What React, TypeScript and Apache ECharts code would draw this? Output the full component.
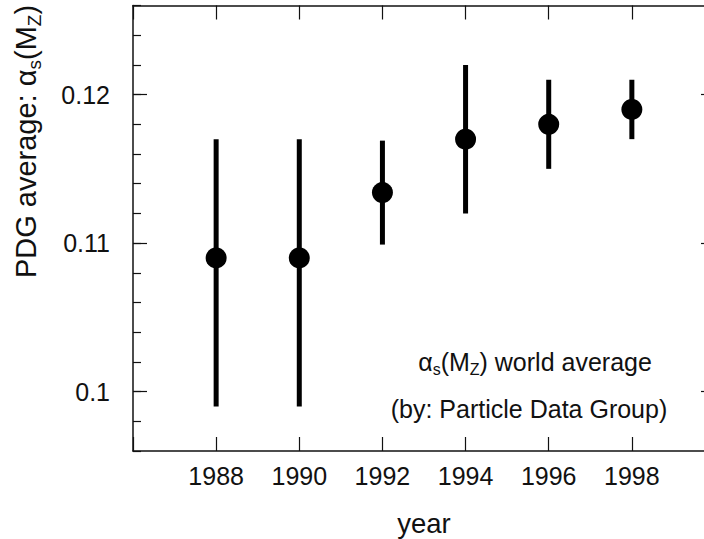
import React, { useEffect, useRef } from "react";
import * as echarts from "echarts";

// PDG world average of alpha_s(M_Z) by edition year
const years = [1988, 1990, 1992, 1994, 1996, 1998];
const alphaS = [0.109, 0.109, 0.1134, 0.117, 0.118, 0.119];
const errLow = [0.099, 0.099, 0.1099, 0.112, 0.115, 0.117];
const errHigh = [0.117, 0.117, 0.1169, 0.122, 0.121, 0.121];

// axis layout
const xRange = [1986, 2000];
const yRange = [0.096, 0.126];
const yMajorTicks = [0.1, 0.11, 0.12];
const xLabelYears = [1988, 1990, 1992, 1994, 1996, 1998];

const FONT = "'Liberation Sans', Arial, Helvetica, sans-serif";
const INK = "#111";

export default function App() {
  const ref = useRef<HTMLDivElement>(null);

  useEffect(() => {
    if (!ref.current) return;
    const chart = echarts.init(ref.current, null, { renderer: "svg" });

    const frameLine = { show: true, lineStyle: { color: INK, width: 1.5 } };

    const option: any = {
      animation: false,
      backgroundColor: "#fff",
      // the frame runs a little past the right edge of the canvas
      grid: {
        left: 133,
        width: 582,
        top: 5.5,
        height: 445.5,
        containLabel: false,
        outerBoundsMode: "none",
      },
      xAxis: [
        {
          type: "value",
          position: "bottom",
          min: xRange[0],
          max: xRange[1],
          interval: 2,
          axisLine: frameLine,
          axisTick: { show: true, inside: true, length: 14, lineStyle: { color: INK, width: 1.2 } },
          axisLabel: {
            show: true,
            margin: 12,
            fontSize: 25,
            fontFamily: FONT,
            color: INK,
            formatter: (v: number) => (xLabelYears.includes(Math.round(v)) ? String(Math.round(v)) : ""),
          },
          splitLine: { show: false },
        },
        {
          type: "value",
          position: "top",
          min: xRange[0],
          max: xRange[1],
          interval: 2,
          axisLine: frameLine,
          axisTick: { show: true, inside: true, length: 14, lineStyle: { color: INK, width: 1.2 } },
          axisLabel: { show: false },
          splitLine: { show: false },
        },
      ],
      yAxis: [
        {
          // minor ticks every 0.002
          type: "value",
          position: "left",
          min: yRange[0],
          max: yRange[1],
          interval: 0.002,
          axisLine: frameLine,
          axisTick: { show: true, inside: true, length: 8, lineStyle: { color: INK, width: 1.2 } },
          axisLabel: { show: false },
          splitLine: { show: false },
        },
        {
          // major ticks and labels
          type: "value",
          position: "left",
          min: yRange[0],
          max: yRange[1],
          axisLine: { show: false },
          axisTick: {
            show: true,
            inside: true,
            length: 14,
            customValues: yMajorTicks,
            lineStyle: { color: INK, width: 1.2 },
          },
          axisLabel: {
            show: true,
            customValues: yMajorTicks,
            margin: 23,
            fontSize: 25,
            fontFamily: FONT,
            color: INK,
            formatter: (v: number) => String(+v.toFixed(3)),
          },
          splitLine: { show: false },
        },
        {
          type: "value",
          position: "right",
          min: yRange[0],
          max: yRange[1],
          axisLine: frameLine,
          axisTick: {
            show: true,
            inside: true,
            length: 14,
            customValues: yMajorTicks,
            lineStyle: { color: INK, width: 1.2 },
          },
          axisLabel: { show: false },
          splitLine: { show: false },
        },
      ],
      series: [
        {
          type: "custom",
          xAxisIndex: 0,
          yAxisIndex: 0,
          data: years.map((yr, i) => [yr, errLow[i], errHigh[i]]),
          encode: { x: 0, y: [1, 2] },
          renderItem: (_params: any, api: any) => {
            const x = api.value(0);
            const lo = api.coord([x, api.value(1)]);
            const hi = api.coord([x, api.value(2)]);
            return {
              type: "line",
              shape: { x1: lo[0], y1: lo[1], x2: hi[0], y2: hi[1] },
              style: { stroke: "#000", lineWidth: 5 },
            };
          },
          z: 2,
        },
        {
          type: "scatter",
          xAxisIndex: 0,
          yAxisIndex: 0,
          data: years.map((yr, i) => [yr, alphaS[i]]),
          symbol: "circle",
          symbolSize: 21,
          itemStyle: { color: "#000", opacity: 1 },
          emphasis: { disabled: true },
          z: 3,
        },
      ],
      graphic: [
        {
          type: "text",
          x: 26,
          y: 141.5,
          rotation: Math.PI / 2,
          style: {
            text: "{a|PDG average: α}{s|s}{a|(M}{s|Z}{a|)}",
            align: "center",
            verticalAlign: "middle",
            fill: INK,
            rich: {
              a: { fontSize: 29, fontFamily: FONT, fill: INK, lineHeight: 35, verticalAlign: "middle" },
              s: { fontSize: 19, fontFamily: FONT, fill: INK, lineHeight: 18, verticalAlign: "bottom" },
            },
          },
        },
        {
          type: "text",
          x: 424,
          y: 523,
          style: {
            text: "year",
            align: "center",
            verticalAlign: "middle",
            fontSize: 27.5,
            fontFamily: FONT,
            fill: INK,
          },
        },
        {
          type: "text",
          x: 535,
          y: 362,
          style: {
            text: "{a|α}{s|s}{a|(M}{s|Z}{a|) world average}",
            align: "center",
            verticalAlign: "middle",
            fill: INK,
            rich: {
              a: { fontSize: 25, fontFamily: FONT, fill: INK, lineHeight: 31, verticalAlign: "middle" },
              s: { fontSize: 16, fontFamily: FONT, fill: INK, lineHeight: 15, verticalAlign: "bottom" },
            },
          },
        },
        {
          type: "text",
          x: 529,
          y: 409,
          style: {
            text: "(by: Particle Data Group)",
            align: "center",
            verticalAlign: "middle",
            fontSize: 25,
            fontFamily: FONT,
            fill: INK,
          },
        },
      ],
    };

    chart.setOption(option);
    return () => chart.dispose();
  }, []);

  return (
    <div
      ref={ref}
      style={{ position: "fixed", left: 0, top: 0, width: 704, height: 539, background: "#fff" }}
    />
  );
}
